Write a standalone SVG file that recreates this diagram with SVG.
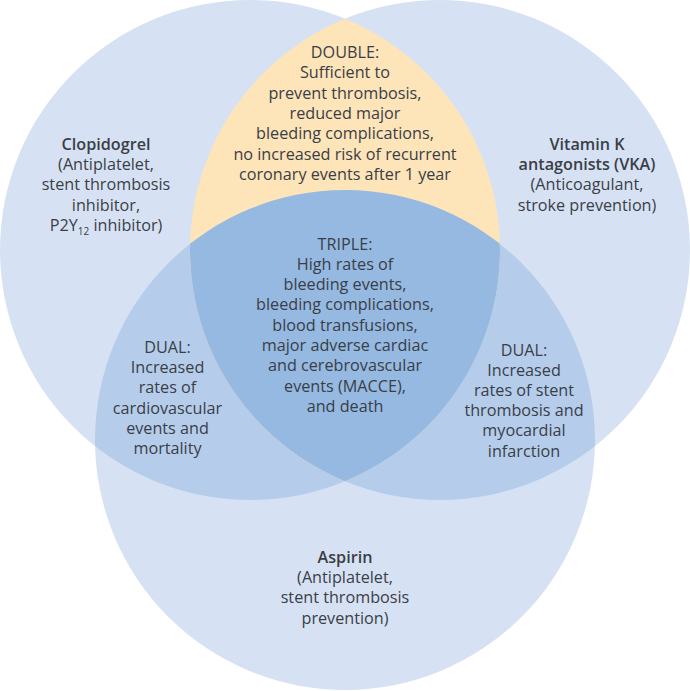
<svg xmlns="http://www.w3.org/2000/svg" width="690" height="691" viewBox="0 0 690 691">
<style>
  text { font-family: "Open Sans", "Noto Sans", "DejaVu Sans", sans-serif; font-size: 16.2px; fill: #3a3e47; text-anchor: middle; }
  .b { font-weight: 600; }
  .single { fill: #d6e2f3; }
  .dual { fill: #b5cdeb; }
  .double { fill: #fde4b9; }
  .triple { fill: #95b9e1; }
</style>
<defs>
  <clipPath id="cL"><circle cx="250" cy="250" r="250"/></clipPath>
  <clipPath id="cR"><circle cx="440" cy="250" r="250"/></clipPath>
  <clipPath id="cB"><circle cx="345" cy="440" r="250"/></clipPath>
</defs>
<rect width="690" height="691" fill="#ffffff"/>
<g id="shapes">
  <circle class="single" cx="250" cy="250" r="250"/>
  <circle class="single" cx="440" cy="250" r="250"/>
  <circle class="single" cx="345" cy="440" r="250"/>
  <circle class="dual" cx="345" cy="440" r="250" clip-path="url(#cL)"/>
  <circle class="dual" cx="345" cy="440" r="250" clip-path="url(#cR)"/>
  <circle class="double" cx="250" cy="250" r="250" clip-path="url(#cR)"/>
  <g clip-path="url(#cL)">
    <circle class="triple" cx="345" cy="440" r="250" clip-path="url(#cR)"/>
  </g>
</g>
<g id="connectors"/>
<g id="clopidogrel">
  <text x="106" y="150" class="b">Clopidogrel</text>
  <text x="106" y="170.2">(Antiplatelet,</text>
  <text x="106" y="190.4">stent thrombosis</text>
  <text x="106" y="210.6">inhibitor,</text>
  <text x="106" y="230.8">P2Y<tspan font-size="10" dy="4">12</tspan><tspan dy="-4"> inhibitor)</tspan></text>
</g>
<g id="vka">
  <text x="587" y="150" class="b">Vitamin K</text>
  <text x="587" y="170.2" class="b">antagonists (VKA)</text>
  <text x="587" y="190.4">(Anticoagulant,</text>
  <text x="587" y="210.6">stroke prevention)</text>
</g>
<g id="aspirin">
  <text x="345" y="563" class="b">Aspirin</text>
  <text x="345" y="583.2">(Antiplatelet,</text>
  <text x="345" y="603.4">stent thrombosis</text>
  <text x="345" y="623.6">prevention)</text>
</g>
<g id="double">
  <text x="345" y="58">DOUBLE:</text>
  <text x="345" y="78.3">Sufficient to</text>
  <text x="345" y="98.6">prevent thrombosis,</text>
  <text x="345" y="118.9">reduced major</text>
  <text x="345" y="139.2">bleeding complications,</text>
  <text x="345" y="159.5">no increased risk of recurrent</text>
  <text x="345" y="179.8">coronary events after 1 year</text>
</g>
<g id="triple">
  <text x="345" y="249.5">TRIPLE:</text>
  <text x="345" y="269.8">High rates of</text>
  <text x="345" y="290.1">bleeding events,</text>
  <text x="345" y="310.4">bleeding complications,</text>
  <text x="345" y="330.7">blood transfusions,</text>
  <text x="345" y="351">major adverse cardiac</text>
  <text x="345" y="371.3">and cerebrovascular</text>
  <text x="345" y="391.6">events (MACCE),</text>
  <text x="345" y="411.9">and death</text>
</g>
<g id="dual-left">
  <text x="167.5" y="353">DUAL:</text>
  <text x="167.5" y="373.2">Increased</text>
  <text x="167.5" y="393.4">rates of</text>
  <text x="167.5" y="413.6">cardiovascular</text>
  <text x="167.5" y="433.8">events and</text>
  <text x="167.5" y="454">mortality</text>
</g>
<g id="dual-right">
  <text x="524" y="355.5">DUAL:</text>
  <text x="524" y="375.7">Increased</text>
  <text x="524" y="395.9">rates of stent</text>
  <text x="524" y="416.1">thrombosis and</text>
  <text x="524" y="436.3">myocardial</text>
  <text x="524" y="456.5">infarction</text>
</g>
</svg>
